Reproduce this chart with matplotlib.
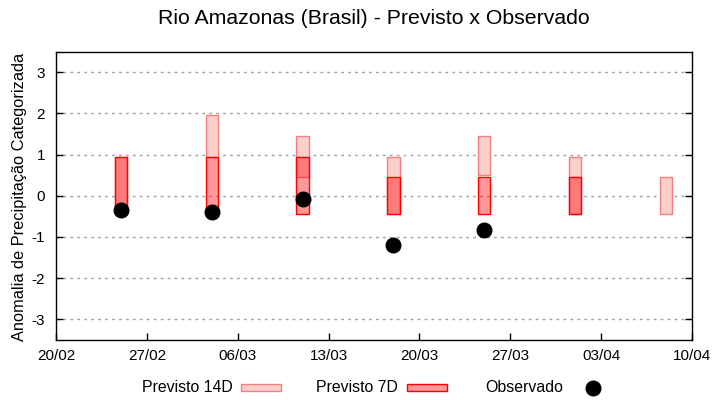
import numpy as np
import matplotlib
matplotlib.use("Agg")
import matplotlib.pyplot as plt
import matplotlib.dates as mdates
from matplotlib.patches import Rectangle
import datetime as dt

plt.rcParams['font.family'] = ['Liberation Sans', 'DejaVu Sans']

# ---- data ----
dates = ['2023-02-25', '2023-03-04', '2023-03-11', '2023-03-18',
         '2023-03-25', '2023-04-01', '2023-04-08']
p14_low = [-0.45, 0.95, 0.45, -0.45, 0.50, -0.45, -0.45]
p14_high = [0.95, 1.95, 1.45, 0.95, 1.45, 0.95, 0.45]
p7_low = [-0.45, -0.45, -0.45, -0.45, -0.45, -0.45, np.nan]
p7_high = [0.95, 0.95, 0.95, 0.45, 0.45, 0.45, np.nan]
observed = [-0.35, -0.40, -0.07, -1.20, -0.82, np.nan, np.nan]
xtick_dates = ['2023-02-20', '2023-02-27', '2023-03-06', '2023-03-13',
               '2023-03-20', '2023-03-27', '2023-04-03', '2023-04-10']
yticks = [-3, -2, -1, 0, 1, 2, 3]

title = "Rio Amazonas (Brasil) - Previsto x Observado"
ylabel = "Anomalia de Precipitação Categorizada"

# ---- figure ----
W, H = 720, 400
fig = plt.figure(figsize=(W / 100, H / 100), dpi=100)
ax = fig.add_axes([56 / W, 1 - 340 / H, (692 - 56) / W, (340 - 51.5) / H])

x = mdates.date2num([dt.datetime.fromisoformat(d) for d in dates])
lo14 = np.array(p14_low); hi14 = np.array(p14_high)
lo7 = np.array(p7_low); hi7 = np.array(p7_high)

ax.bar(x, hi14 - lo14, bottom=lo14, width=0.95, color='#fccfca',
       edgecolor='#f08080', linewidth=1.0, zorder=2)
ax.bar(x, hi7 - lo7, bottom=lo7, width=0.95, facecolor=(1, 0, 0, 0.4),
       edgecolor='#ff0000', linewidth=1.0, zorder=3)
ax.plot(x, observed, 'o', color='black', markersize=10.5, zorder=4)

xt = mdates.date2num([dt.datetime.fromisoformat(d) for d in xtick_dates])
ax.set_xlim(xt[0], xt[-1])
ax.set_xticks(xt)
ax.set_xticklabels([dt.datetime.fromisoformat(d).strftime('%d/%m') for d in xtick_dates])
ax.set_ylim(-3.5, 3.5)
ax.set_yticks(yticks)
ax.set_yticklabels([str(v) for v in yticks])

for y in yticks:
    ax.axhline(y, color='#a0a0a0', linestyle=(0, (2, 3)), linewidth=1.0, zorder=1)

ax.tick_params(axis='both', direction='in', length=5, width=1.0,
               labelsize=11, colors='black')
ax.tick_params(axis='y', right=True, pad=8)
ax.tick_params(axis='x', pad=6.5)
for s in ax.spines.values():
    s.set_linewidth(1.0)

fig.text(374 / W, 1 - 19 / H, title, ha='center', va='center', fontsize=15.3)
fig.text(20 / W, 1 - 197 / H, ylabel, ha='center', va='center',
         rotation=90, fontsize=11.8)

# ---- legend (pixel overlay) ----
lax = fig.add_axes([0, 0, 1, 1], facecolor='none')
lax.set_xlim(0, W); lax.set_ylim(H, 0); lax.axis('off')
ly = 387
fs = 11.4
lax.text(233, ly, "Previsto 14D", ha='right', va='center', fontsize=fs)
lax.add_patch(Rectangle((241, ly - 3), 40, 6.5, facecolor='#fccfca',
                        edgecolor='#f08080', linewidth=1.0))
lax.text(398, ly, "Previsto 7D", ha='right', va='center', fontsize=fs)
lax.add_patch(Rectangle((407, ly - 3), 40, 6.5, facecolor=(1, 0, 0, 0.4),
                        edgecolor='#ff0000', linewidth=1.0))
lax.text(563, ly, "Observado", ha='right', va='center', fontsize=fs)
lax.plot([593], [ly + 1], 'o', color='black', markersize=10.5)

fig.savefig('out.png', dpi=100)
